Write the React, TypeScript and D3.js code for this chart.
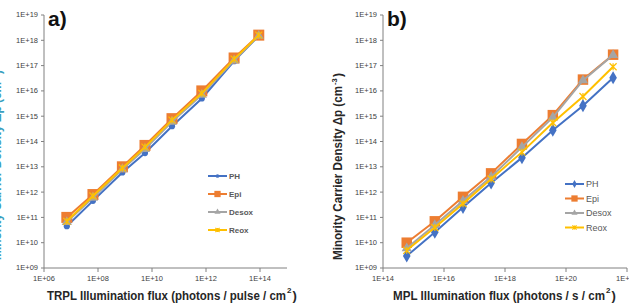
import React from "react";
import * as d3 from "d3";

// panel a) TRPL
const fluxA = [7e6, 6.5e7, 8e8, 5.5e9, 5.5e10, 7e11, 1.1e13, 9e13];
const phA = [4.5e10, 4.5e11, 6e12, 3.5e13, 4e14, 5e15, 1.5e17, 1.5e18];
const epiA = [1e11, 8e11, 1e13, 7e13, 8e14, 1e16, 2e17, 1.6e18];
const desoxA = [6.5e10, 6e11, 8e12, 5e13, 6e14, 7e15, 1.6e17, 1.5e18];
const reoxA = [7e10, 7e11, 9e12, 6e13, 7e14, 8e15, 1.8e17, 1.6e18];

// panel b) MPL
const fluxB = [6e14, 5e15, 4.2e16, 3.5e17, 3.6e18, 3.7e19, 3.6e20, 3.5e21];
const phB = [3e9, 2.6e10, 2.5e11, 2.3e12, 2.3e13, 2.8e14, 2.6e15, 3.3e16];
const epiB = [1e10, 7e10, 6.5e11, 5.5e12, 8e13, 1.1e15, 2.8e16, 2.7e17];
const desoxB = [6e9, 5e10, 4.5e11, 4e12, 6e13, 9e14, 2.6e16, 2.6e17];
const reoxB = [5e9, 4e10, 3.5e11, 3.3e12, 3.8e13, 5.5e14, 6e15, 9e16];

const seriesNames = ["PH", "Epi", "Desox", "Reox"];
const colors = ["#4472C4", "#ED7D31", "#A5A5A5", "#FFC000"];

const yExps = [9, 10, 11, 12, 13, 14, 15, 16, 17, 18, 19];
const xExpsA = [6, 8, 10, 12, 14];
const xExpsB = [14, 16, 18, 20, 22];

const fmt = (e: number) => `1E+${String(e).padStart(2, "0")}`;
const FONT = "Liberation Sans, sans-serif";

function Marker({ kind, x, y, color, scale }: any) {
  if (kind === "x") {
    const s = 3.5 * scale;
    return (
      <path
        d={`M${x - s},${y - s}L${x + s},${y + s}M${x - s},${y + s}L${x + s},${y - s}M${x},${y - s}L${x},${y + s}`}
        stroke={color}
        strokeWidth={1.2}
        fill="none"
      />
    );
  }
  const types: any = {
    circle: [d3.symbolCircle, 30],
    diamond: [d3.symbolDiamond, 50],
    square: [d3.symbolSquare, 110],
    triangle: [d3.symbolTriangle, 45],
  };
  const [t, size] = types[kind];
  const p = d3.symbol().type(t).size(size * scale * scale)();
  return <path d={p || ""} transform={`translate(${x},${y})`} fill={color} />;
}

function Panel({ xs, data, x0, x1, xDomain, xExps, label, xTitle, xTitleSpan, markers, legend, legendBold, sqScale }: any) {
  const x = d3.scaleLog().domain(xDomain).range([x0, x1]);
  const y = d3.scaleLog().domain([1e9, 1e19]).range([268, 15]);
  const line = d3
    .line<number>()
    .x((_, i) => x(xs[i]))
    .y((d) => y(d));

  return (
    <g>
      <line x1={x0} x2={x0} y1={15} y2={268} stroke="#808080" strokeWidth={1} />
      <line x1={x0} x2={x1} y1={268} y2={268} stroke="#808080" strokeWidth={1} />
      {yExps.map((e) => (
        <g key={e}>
          <line x1={x0 - 3} x2={x0} y1={y(Math.pow(10, e))} y2={y(Math.pow(10, e))} stroke="#808080" />
          <text x={x0 - 6} y={y(Math.pow(10, e))} dy="0.33em" textAnchor="end" fontSize={7.5} fontFamily={FONT} fill="#404040">
            {fmt(e)}
          </text>
        </g>
      ))}
      {xExps.map((e) => (
        <g key={e}>
          <line x1={x(Math.pow(10, e))} x2={x(Math.pow(10, e))} y1={268} y2={272} stroke="#808080" />
          <text x={x(Math.pow(10, e))} y={281} textAnchor="middle" fontSize={7.5} fontFamily={FONT} fill="#404040">
            {fmt(e)}
          </text>
        </g>
      ))}

      {data.map((vals: number[], si: number) => (
        <g key={si}>
          <path d={line(vals) || ""} fill="none" stroke={colors[si]} strokeWidth={2} />
          {vals.map((v, i) => (
            <Marker key={i} kind={markers[si]} x={x(xs[i])} y={y(v)} color={colors[si]} scale={si === 1 ? sqScale : 1} />
          ))}
        </g>
      ))}

      {seriesNames.map((n, i) => {
        const ly = legend.y + i * legend.dy;
        return (
          <g key={n}>
            <line x1={legend.x} x2={legend.x + 19} y1={ly} y2={ly} stroke={colors[i]} strokeWidth={2} />
            <Marker kind={markers[i]} x={legend.x + 9.5} y={ly} color={colors[i]} scale={0.6} />
            <text
              x={legend.x + 21}
              y={ly}
              dy="0.35em"
              fontSize={legendBold ? 8 : 9}
              fontWeight={legendBold ? "bold" : "normal"}
              fontFamily={FONT}
              fill="#595959"
            >
              {n}
            </text>
          </g>
        );
      })}

      <text x={x0 + 4} y={26} fontSize={21} fontWeight="bold" fontFamily={FONT} fill="#111">
        {label}
      </text>
      <text
        x={xTitleSpan[0]}
        y={300}
        fontSize={13}
        fontWeight="bold"
        fontFamily={FONT}
        fill="#262626"
        textLength={xTitleSpan[1] - xTitleSpan[0] - 12}
        lengthAdjust="spacingAndGlyphs"
      >
        {xTitle}
      </text>
      <text x={xTitleSpan[1] - 11} y={293} fontSize={8} fontWeight="bold" fontFamily={FONT} fill="#262626">
        2
      </text>
      <text x={xTitleSpan[1] - 5.5} y={300} fontSize={13} fontWeight="bold" fontFamily={FONT} fill="#262626">
        )
      </text>
    </g>
  );
}

export default function App() {
  return (
    <div style={{ position: "absolute", left: 0, top: 0 }}>
      <svg width={629} height={305} style={{ display: "block", background: "#fff" }}>
        <text
          transform="translate(1,165) rotate(-90)"
          textAnchor="middle"
          fontSize={12}
          fontWeight="bold"
          fontFamily={FONT}
          fill="#3a9fc0"
          textLength={190}
          lengthAdjust="spacingAndGlyphs"
        >
          Minority Carrier Density Δp (cm⁻³)
        </text>
        <Panel
          xs={fluxA}
          data={[phA, epiA, desoxA, reoxA]}
          x0={44}
          x1={287}
          xDomain={[1e6, 1e15]}
          xExps={xExpsA}
          label="a)"
          xTitle="TRPL Illumination flux (photons / pulse / cm"
          xTitleSpan={[47, 298]}
          markers={["circle", "square", "triangle", "x"]}
          legend={{ x: 208, y: 176, dy: 18 }}
          legendBold={true}
          sqScale={1.05}
        />
        <g transform="translate(342,166) rotate(-90)">
          <text
            x={-94}
            y={0}
            fontSize={12}
            fontWeight="bold"
            fontFamily={FONT}
            fill="#262626"
            textLength={174}
            lengthAdjust="spacingAndGlyphs"
          >
            Minority Carrier Density Δp (cm
          </text>
          <text x={81} y={-5} fontSize={7.5} fontWeight="bold" fontFamily={FONT} fill="#262626">
            -3
          </text>
          <text x={89} y={0} fontSize={12} fontWeight="bold" fontFamily={FONT} fill="#262626">
            )
          </text>
        </g>
        <Panel
          xs={fluxB}
          data={[phB, epiB, desoxB, reoxB]}
          x0={383}
          x1={627}
          xDomain={[1e14, 1e22]}
          xExps={xExpsB}
          label="b)"
          xTitle="MPL Illumination flux (photons / s / cm"
          xTitleSpan={[393, 617]}
          markers={["diamond", "square", "triangle", "x"]}
          legend={{ x: 565, y: 184, dy: 14.5 }}
          legendBold={false}
          sqScale={1}
        />
      </svg>
    </div>
  );
}
